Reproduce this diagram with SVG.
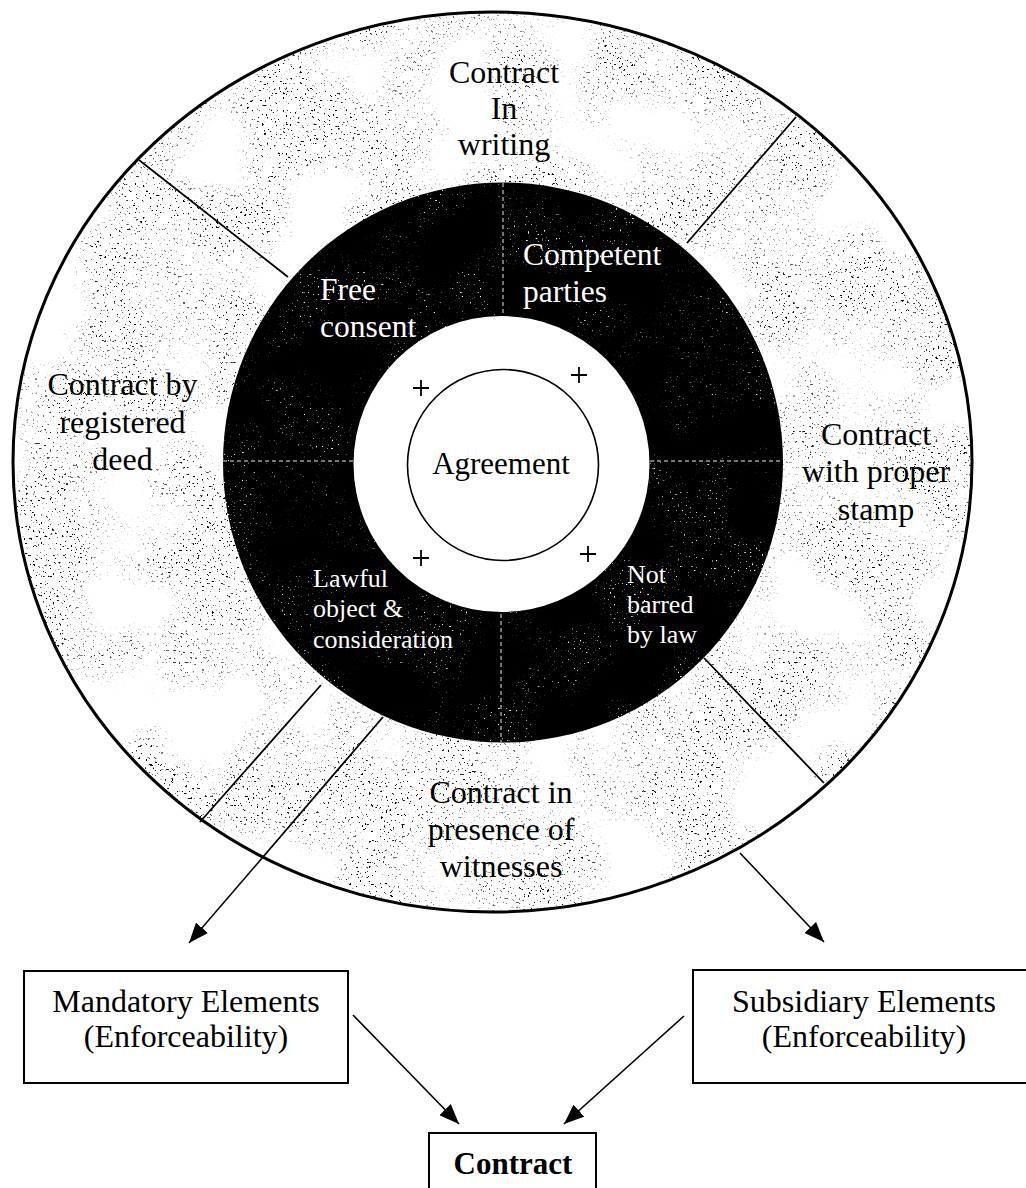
<svg xmlns="http://www.w3.org/2000/svg" width="1026" height="1188" viewBox="0 0 1026 1188">
<style>
text{font-family:"Liberation Serif","Times New Roman",serif;}
.lab{font-size:32px;fill:#000;text-anchor:middle;}
.wl{font-size:31.5px;fill:#fff;}
.ws{font-size:26px;fill:#fff;}
.box{fill:#fff;stroke:#000;stroke-width:2;}
.div{stroke:#000;stroke-width:1.8;fill:none;}
.con{stroke:#000;stroke-width:1.6;fill:none;marker-end:url(#ah);}
.plus{stroke:#000;stroke-width:1.8;}
.faint{stroke:#9a9a9a;stroke-width:1.5;stroke-dasharray:4 3;fill:none;}
</style>
<defs>
<marker id="ah" markerUnits="userSpaceOnUse" markerWidth="22" markerHeight="16" refX="20" refY="8" orient="auto">
<path d="M0,0 L20,8 L0,16 Z" fill="#000"/>
</marker>
<filter id="spkD" filterUnits="userSpaceOnUse" x="0" y="0" width="1026" height="1188">
<feTurbulence type="fractalNoise" baseFrequency="0.42" numOctaves="2" seed="7" result="n"/>
<feColorMatrix in="n" type="matrix" values="0 0 0 0 0  0 0 0 0 0  0 0 0 0 0  -16 0 0 0 5.3" result="d"/>
<feTurbulence type="fractalNoise" baseFrequency="0.012" numOctaves="2" seed="3" result="m"/>
<feColorMatrix in="m" type="matrix" values="0 0 0 0 0  0 0 0 0 0  0 0 0 0 0  4 0 0 0 -1.5" result="mk"/>
<feComposite in="d" in2="mk" operator="in"/>
</filter>
<filter id="spkW" filterUnits="userSpaceOnUse" x="0" y="0" width="1026" height="1188">
<feTurbulence type="fractalNoise" baseFrequency="0.5" numOctaves="2" seed="21" result="n"/>
<feColorMatrix in="n" type="matrix" values="0 0 0 0 1  0 0 0 0 1  0 0 0 0 1  -16 0 0 0 4.8" result="d"/>
<feTurbulence type="fractalNoise" baseFrequency="0.015" numOctaves="2" seed="11" result="m"/>
<feColorMatrix in="m" type="matrix" values="0 0 0 0 0  0 0 0 0 0  0 0 0 0 0  4 0 0 0 -1.6" result="mk"/>
<feComposite in="d" in2="mk" operator="in"/>
</filter>
<clipPath id="outerClip"><ellipse cx="492.5" cy="462" rx="479.5" ry="450"/></clipPath>
<clipPath id="blackClip"><circle cx="503" cy="462.5" r="280"/></clipPath>
</defs>
<rect width="1026" height="1188" fill="#fff"/>

<g id="outer-ring">
<ellipse cx="492.5" cy="462" rx="479.5" ry="450" fill="#fff"/>
<rect x="0" y="0" width="1026" height="1188" fill="#000" filter="url(#spkD)" clip-path="url(#outerClip)"/>
<ellipse cx="492.5" cy="462" rx="479.5" ry="450" fill="none" stroke="#000" stroke-width="3"/>
<line class="div" x1="139" y1="160" x2="288" y2="277"/>
<line class="div" x1="796" y1="117" x2="687" y2="243"/>
<line class="div" x1="704" y1="658" x2="824" y2="783"/>
<line class="div" x1="321" y1="685" x2="200" y2="822"/>
<line class="div" x1="383" y1="717" x2="263" y2="857"/>
</g>

<g id="black-ring">
<circle cx="503" cy="462.5" r="280" fill="#000"/>
<rect x="0" y="0" width="1026" height="1188" fill="#fff" filter="url(#spkW)" clip-path="url(#blackClip)"/>
<line class="faint" x1="223" y1="461" x2="355" y2="461"/>
<line class="faint" x1="650" y1="461" x2="783" y2="461"/>
<line class="faint" x1="503" y1="183" x2="503" y2="314"/>
<line class="faint" x1="501" y1="614" x2="501" y2="742"/>
<circle cx="501.5" cy="464" r="148" fill="#fff"/>
</g>

<g id="node-in-writing">
<text class="lab" x="504" y="83">Contract</text>
<text class="lab" x="504" y="119">In</text>
<text class="lab" x="504" y="155">writing</text>
</g>
<g id="node-registered-deed">
<text class="lab" x="122.5" y="395">Contract by</text>
<text class="lab" x="122.5" y="433">registered</text>
<text class="lab" x="122.5" y="470">deed</text>
</g>
<g id="node-proper-stamp">
<text class="lab" x="876" y="445">Contract</text>
<text class="lab" x="876" y="482">with proper</text>
<text class="lab" x="876" y="520">stamp</text>
</g>
<g id="node-witnesses">
<text class="lab" x="501" y="803">Contract in</text>
<text class="lab" x="501" y="840">presence of</text>
<text class="lab" x="501" y="877">witnesses</text>
</g>

<g id="node-competent-parties">
<text class="wl" x="523" y="265">Competent</text>
<text class="wl" x="523" y="302">parties</text>
</g>
<g id="node-free-consent">
<text class="wl" x="320" y="300">Free</text>
<text class="wl" x="320" y="337">consent</text>
</g>
<g id="node-lawful-object">
<text class="ws" x="313" y="587">Lawful</text>
<text class="ws" x="313" y="617">object &amp;</text>
<text class="ws" x="313" y="648">consideration</text>
</g>
<g id="node-not-barred">
<text class="ws" x="627" y="583">Not</text>
<text class="ws" x="627" y="613">barred</text>
<text class="ws" x="627" y="643">by law</text>
</g>

<g id="node-agreement">
<circle cx="503" cy="465" r="95.5" fill="#fff" stroke="#000" stroke-width="1.6"/>
<text x="501" y="474" font-size="31" text-anchor="middle">Agreement</text>
<path class="plus" d="M413,388 H429 M421,380 V396"/>
<path class="plus" d="M571,375 H587 M579,367 V383"/>
<path class="plus" d="M413,558 H429 M421,550 V566"/>
<path class="plus" d="M580,554 H596 M588,546 V562"/>
</g>

<g id="node-mandatory">
<rect class="box" x="24" y="971" width="324" height="112"/>
<text class="lab" x="186" y="1012">Mandatory Elements</text>
<text class="lab" x="186" y="1047">(Enforceability)</text>
</g>
<g id="node-subsidiary">
<rect class="box" x="693" y="970" width="345" height="113"/>
<text class="lab" x="864" y="1012">Subsidiary Elements</text>
<text class="lab" x="864" y="1047">(Enforceability)</text>
</g>
<g id="node-contract">
<rect class="box" x="429" y="1133" width="167" height="70"/>
<text x="513" y="1174" font-size="31" font-weight="bold" text-anchor="middle">Contract</text>
</g>

<g id="connectors">
<line class="con" x1="263" y1="857" x2="189" y2="943"/>
<line class="con" x1="740" y1="853" x2="824" y2="942"/>
<line class="con" x1="353" y1="1015" x2="459" y2="1124"/>
<line class="con" x1="684" y1="1016" x2="564" y2="1124"/>
</g>
</svg>
